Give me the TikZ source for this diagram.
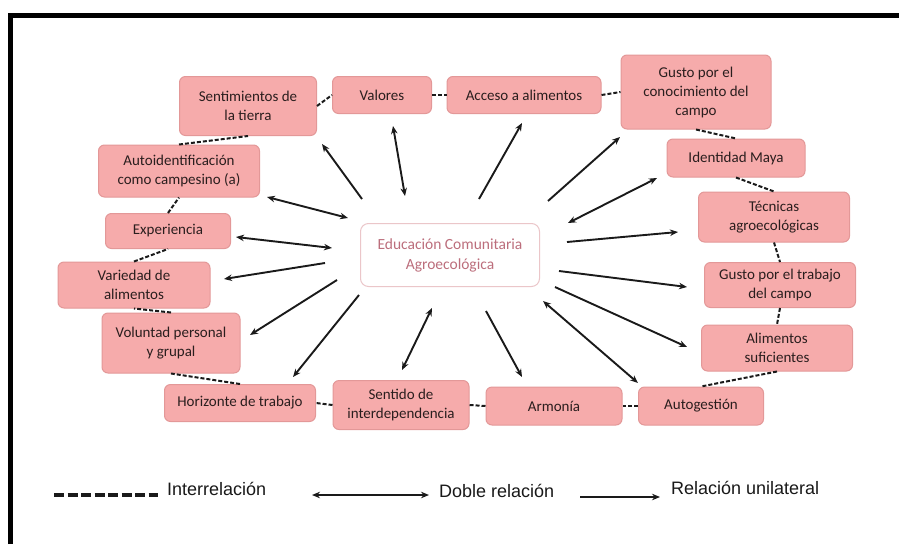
\documentclass[tikz,border=0pt]{standalone}
\usepackage{fontspec}
\setmainfont{Carlito}
\newfontfamily\legfont{Liberation Sans}
\usetikzlibrary{arrows.meta}
\definecolor{boxfill}{HTML}{F6ABAB}
\definecolor{boxdraw}{HTML}{E39898}
\definecolor{boxtext}{HTML}{2A1E1E}
\definecolor{ctrtext}{HTML}{BC6E7C}
\definecolor{ctrdraw}{HTML}{EBC6C9}
\definecolor{lnk}{HTML}{1A1A1A}
\begin{document}
\begin{tikzpicture}[x=1pt,y=-1pt,
  box/.style={draw=boxdraw, fill=boxfill, line width=1pt, rounded corners=6pt,
    align=center, text=boxtext, font=\fontsize{15}{19}\selectfont, inner sep=0pt},
  ctrbox/.style={draw=ctrdraw, fill=white, line width=1pt, rounded corners=8pt,
    align=center, text=ctrtext, font=\fontsize{15.5}{20}\selectfont, inner sep=0pt},
  uni/.style={-{Stealth[length=8pt,width=6.5pt]}, line width=1.9pt, draw=lnk},
  dbl/.style={{Stealth[length=8pt,width=6.5pt]}-{Stealth[length=8pt,width=6.5pt]}, line width=1.9pt, draw=lnk},
  dsh/.style={line width=2pt, dash pattern=on 4pt off 2pt, draw=lnk},
  legdash/.style={line width=4pt, dash pattern=on 10pt off 3.5pt, draw=lnk},
  legtext/.style={font=\legfont\fontsize{18}{20}\selectfont, inner sep=0pt, anchor=west, text=black!90}
]
\useasboundingbox (0,0) rectangle (899,544);
\fill[white] (0,0) rectangle (899,544);
\draw[line width=5pt, line join=miter] (10,544) -- (10,15) -- (899,15);

% boxes
\node[box, minimum width=137pt, minimum height=59pt] (sent) at (248,106) {Sentimientos de\\la tierra};
\node[box, minimum width=99pt, minimum height=37pt] (val) at (382,95) {Valores};
\node[box, minimum width=154pt, minimum height=37pt] (acc) at (524,95) {Acceso a alimentos};
\node[box, minimum width=150pt, minimum height=74pt] (gcon) at (696,92) {Gusto por el\\conocimiento del\\campo};
\node[box, minimum width=138pt, minimum height=38pt] (maya) at (736,158) {Identidad Maya};
\node[box, minimum width=151pt, minimum height=50pt] (tec) at (774,217) {Técnicas\\agroecológicas};
\node[box, minimum width=151pt, minimum height=45pt] (gtra) at (780,285) {Gusto por el trabajo\\del campo};
\node[box, minimum width=151pt, minimum height=46pt] (alim) at (777,348) {Alimentos\\suficientes};
\node[box, minimum width=125pt, minimum height=38pt] (autog) at (701,406) {Autogestión};
\node[box, minimum width=136pt, minimum height=38pt] (arm) at (554,406) {Armonía};
\node[box, minimum width=136pt, minimum height=49pt] (inter) at (401,405) {Sentido de\\interdependencia};
\node[box, minimum width=151pt, minimum height=37pt] (hor) at (240,403) {Horizonte de trabajo};
\node[box, minimum width=138pt, minimum height=60pt] (vol) at (171,343) {Voluntad personal\\y grupal};
\node[box, minimum width=152pt, minimum height=46pt] (var) at (134,285) {Variedad de\\alimentos};
\node[box, minimum width=125pt, minimum height=35pt] (exp) at (168,231) {Experiencia};
\node[box, minimum width=161pt, minimum height=52pt] (autoid) at (179,171) {Autoidentificación\\como campesino (a)};
\node[ctrbox, minimum width=179pt, minimum height=63pt] (ctr) at (450,255) {Educación Comunitaria\\Agroecológica};

% dashed interrelations
\draw[dsh] (sent.east) -- (val.west);
\draw[dsh] (val.east) -- (acc.west);
\draw[dsh] (acc.east) -- (gcon.west);
\draw[dsh] (gcon.south) -- (maya.north);
\draw[dsh] (maya.south) -- (tec.north);
\draw[dsh] (tec.south) -- (gtra.north);
\draw[dsh] (gtra.south) -- (alim.north);
\draw[dsh] (alim.south) -- (autog.north);
\draw[dsh] (autog.west) -- (arm.east);
\draw[dsh] (arm.west) -- (inter.east);
\draw[dsh] (inter.west) -- (hor.east);
\draw[dsh] (hor.north) -- (vol.south);
\draw[dsh] (vol.north) -- (var.south);
\draw[dsh] (var.north) -- (exp.south);
\draw[dsh] (exp.north) -- (autoid.south);
\draw[dsh] (autoid.north) -- (sent.south);

% arrow end points
\coordinate (s1) at (362,199); \coordinate (e1) at (322,144);
\coordinate (s2) at (405,196); \coordinate (e2) at (393,126);
\coordinate (s3) at (479,199); \coordinate (e3) at (522,123);
\coordinate (s4) at (548,201); \coordinate (e4) at (620,137);
\coordinate (s5) at (568,223); \coordinate (e5) at (657,178);
\coordinate (s6) at (567,242); \coordinate (e6) at (678,232);
\coordinate (s7) at (559,271); \coordinate (e7) at (687,287);
\coordinate (s8) at (555,287); \coordinate (e8) at (687,347);
\coordinate (s9) at (543,301); \coordinate (e9) at (638,383);
\coordinate (s10) at (486,311); \coordinate (e10) at (522,377);
\coordinate (s11) at (432,308); \coordinate (e11) at (402,370);
\coordinate (s12) at (359,295); \coordinate (e12) at (293,377);
\coordinate (s13) at (337,280); \coordinate (e13) at (250,335);
\coordinate (s14) at (325,263); \coordinate (e14) at (224,279);
\coordinate (s15) at (332,248); \coordinate (e15) at (236,237);
\coordinate (s16) at (348,218); \coordinate (e16) at (267,197);

\draw[uni] (s1) -- (e1);
\draw[dbl] (s2) -- (e2);
\draw[uni] (s3) -- (e3);
\draw[uni] (s4) -- (e4);
\draw[dbl] (s5) -- (e5);
\draw[uni] (s6) -- (e6);
\draw[uni] (s7) -- (e7);
\draw[uni] (s8) -- (e8);
\draw[dbl] (s9) -- (e9);
\draw[uni] (s10) -- (e10);
\draw[dbl] (s11) -- (e11);
\draw[uni] (s12) -- (e12);
\draw[uni] (s13) -- (e13);
\draw[uni] (s14) -- (e14);
\draw[dbl] (s15) -- (e15);
\draw[dbl] (s16) -- (e16);

% legend
\coordinate (la) at (54,495); \coordinate (lb) at (158,495);
\coordinate (lc) at (312,495); \coordinate (ld) at (429,495);
\coordinate (le) at (580,497); \coordinate (lf) at (660,497);
\draw[legdash] (la) -- (lb);
\draw[dbl] (lc) -- (ld);
\draw[uni] (le) -- (lf);
\node[legtext] (t1) at (167,489) {Interrelación};
\node[legtext] (t2) at (439,491) {Doble relación};
\node[legtext] (t3) at (671,488) {Relación unilateral};
\end{tikzpicture}
\end{document}
